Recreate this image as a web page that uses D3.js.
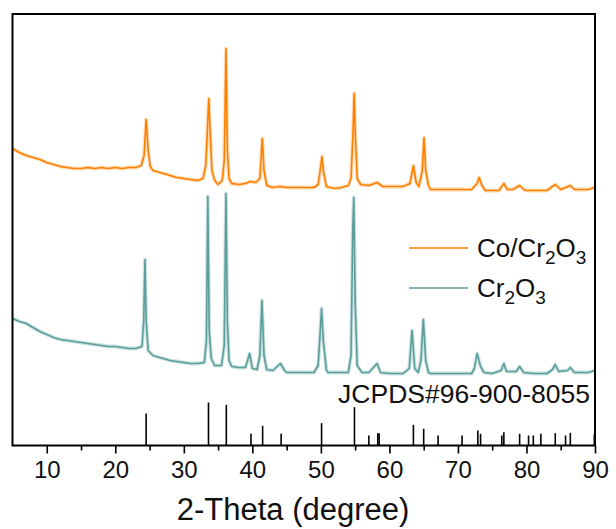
<!DOCTYPE html>
<html><head><meta charset="utf-8">
<script src="https://cdn.jsdelivr.net/npm/d3@7"></script>
<style>body{margin:0;background:#fff}svg{display:block;font-family:"Liberation Sans",Arial,sans-serif}</style>
</head><body><svg id="c" width="616" height="529"></svg>
<script>
// Co/Cr2O3 pattern: [2theta, intensity (a.u.)]
const coCr2O3 = [[5,297],[6,293],[7,290],[8,288],[9,286],[10,283],[11,281],[12,279],[13,278],[14,277],[15,277],[16,278],[17,277],[18,278],[19,277],[20,278],[21,277],[22,278],[23,278],[23.8,280],[24.2,290],[24.5,326],[24.8,295],[25.1,279],[25.5,275],[26,274],[27,272],[28,270],[29,268],[30,267],[31,266],[32,265],[32.8,267],[33.2,280],[33.5,325],[33.65,347],[33.8,320],[34.1,275],[34.5,265],[35,261],[35.6,265],[35.9,285],[36.15,397],[36.35,295],[36.6,267],[37,262],[38,261],[39,262],[39.7,264],[40.5,263],[41.1,267],[41.45,307],[41.7,275],[42.1,260],[43,258],[44,259],[45,258],[46,258],[47,258],[48,258],[49,258],[49.6,261],[50,280],[50.15,289],[50.4,273],[50.8,259],[52,257],[53,258],[54,260],[54.4,267],[54.7,315],[54.85,352],[55,315],[55.3,267],[55.8,261],[57,260],[58.2,263],[59,259],[60,259],[61,259],[62,259],[63,262],[63.5,280],[63.9,263],[64.3,259],[64.8,275],[65.05,308],[65.3,275],[65.7,260],[66,256],[68,256],[70,256],[72,256],[72.8,262],[73.1,268],[73.5,260],[74,255],[75,255],[76,255],[76.7,262],[77.2,256],[78,256],[79,260],[79.6,256],[80,255],[81,255],[82,255],[83,255],[84.2,261],[85,256],[86.4,260],[87,256],[88,256],[89,256],[90,258]];
// Cr2O3 pattern: [2theta, intensity (a.u.)]
const cr2O3 = [[5,127],[6,124],[7,122],[8,118],[9,114],[10,111],[11,108],[12,106],[13,105],[14,104],[15,103],[16,102],[17,101],[18,100],[19,99],[20,99],[21,98],[22,97],[23,97],[23.9,99],[24.15,125],[24.33,186],[24.5,125],[24.8,95],[25.5,90],[26,89],[27,87],[28,85],[29,84],[30,83],[31,82],[32,82],[33,83],[33.3,105],[33.5,249],[33.7,115],[34,87],[34.5,80],[35.5,80],[35.9,100],[36.15,252],[36.35,125],[36.6,85],[37,79],[38,78],[39,78],[39.6,92],[40,77],[40.7,76],[41.1,90],[41.4,145],[41.7,90],[42.1,76],[43,75],[44.1,82],[44.7,75],[45,73],[46,73],[47,73],[48,73],[49,73],[49.6,80],[50,125],[50.1,137],[50.35,105],[50.8,76],[51,73],[52,73],[53,73],[54,73],[54.4,90],[54.65,215],[54.8,248],[55,145],[55.3,80],[56,73],[57,73],[58.2,82],[58.7,73],[60,72],[61,72],[62,72],[62.9,77],[63.3,115],[63.7,77],[64.2,73],[64.6,85],[64.95,126],[65.3,85],[65.7,73],[66,72],[68,72],[70,72],[72,72],[72.4,77],[72.8,92],[73.3,79],[73.8,73],[75,72],[76.3,75],[76.7,82],[77.1,74],[78.5,74],[79,79],[79.6,73],[81,72],[82,72],[83,72],[83.8,76],[84.2,81],[84.7,74],[86,75],[86.4,78],[87,73],[89,73],[90,75]];
// JCPDS#96-900-8055 reference lines: 2theta and relative intensity
const refPos = [24.5,33.6,36.2,39.8,41.5,44.2,50.1,54.9,57.0,58.3,58.5,63.5,65.0,67.1,70.6,72.9,73.3,76.4,76.7,79.0,80.3,81.0,82.1,84.2,85.7,86.4,89.9];
const refInt = [32,43,40.7,11.7,19.7,11.7,22.3,38.3,10,12.3,12.3,20.7,16.7,10,10,15,11.7,10,13.3,11.7,10,10,11.7,12.3,10,12.7,11];
const xTicks = [10,20,30,40,50,60,70,80,90];
const xMinor = [15,25,35,45,55,65,75,85];
const seriesColors = ["#FF8000","#5B9E9C"];
const haloColors = ["#FFC58A","#A9CFCD"];

const svg = d3.select("#c");
const L=12.5,R=595,T=14,B=445.5;
const x = d3.scaleLinear().domain([5,90]).range([L,R]);
const y = d3.scaleLinear().domain([0,431.5]).range([B,T]);

const line = d3.line().x(d=>x(d[0])).y(d=>y(d[1]));
[coCr2O3,cr2O3].forEach((s,i)=>{
  svg.append("path").attr("d",line(s)).attr("fill","none")
    .attr("stroke",haloColors[i]).attr("stroke-width",3.8).attr("stroke-linejoin","round").attr("opacity",0.6);
  svg.append("path").attr("d",line(s)).attr("fill","none")
    .attr("stroke",seriesColors[i]).attr("stroke-width",1.6).attr("stroke-linejoin","round");
});

svg.append("g").selectAll("line").data(refPos).join("line")
  .attr("x1",d=>x(d)).attr("x2",d=>x(d))
  .attr("y1",y(0)).attr("y2",(d,i)=>y(refInt[i]))
  .attr("stroke","#000").attr("stroke-width",1.6);

// frame
svg.append("rect").attr("x",L).attr("y",T).attr("width",R-L).attr("height",B-T)
  .attr("fill","none").attr("stroke","#000").attr("stroke-width",2);

const ax = svg.append("g").attr("transform",`translate(0,${B})`)
  .call(d3.axisBottom(x).tickValues(xTicks).tickSize(8).tickPadding(7).tickFormat(d3.format("d")));
ax.select(".domain").remove();
ax.selectAll(".tick line").attr("stroke","#000").attr("stroke-width",1.6);
ax.selectAll(".tick text").attr("font-size",24).attr("fill","#111").attr("font-family","Liberation Sans, Arial, sans-serif");
const axm = svg.append("g").attr("transform",`translate(0,${B})`)
  .call(d3.axisBottom(x).tickValues(xMinor).tickSize(5).tickFormat(""));
axm.select(".domain").remove();
axm.selectAll(".tick line").attr("stroke","#000").attr("stroke-width",1.6);

svg.append("text").attr("x",293).attr("y",520).attr("text-anchor","middle")
  .attr("font-size",31).attr("fill","#111").text("2-Theta (degree)");

svg.append("text").attr("x",590).attr("y",403).attr("text-anchor","end")
  .attr("font-size",26.5).attr("fill","#111").text("JCPDS#96-900-8055");

// legend
const leg = [{y:248, parts:[["Co/Cr",0],["2",1],["O",0],["3",1]]},{y:288, parts:[["Cr",0],["2",1],["O",0],["3",1]]}];
leg.forEach((l,i)=>{
  svg.append("line").attr("x1",409).attr("x2",468).attr("y1",l.y).attr("y2",l.y)
    .attr("stroke",seriesColors[i]).attr("stroke-width",1.6);
  const t = svg.append("text").attr("x",477).attr("y",l.y+9).attr("font-size",26).attr("fill","#111");
  l.parts.forEach((p,j)=>{
    const prev=j>0?l.parts[j-1][1]:0;
    t.append("tspan").attr("font-size",p[1]?19:26)
     .attr("dy", p[1]&&!prev?7:(!p[1]&&prev?-7:0)).text(p[0]);
  });
});
</script></body></html>
